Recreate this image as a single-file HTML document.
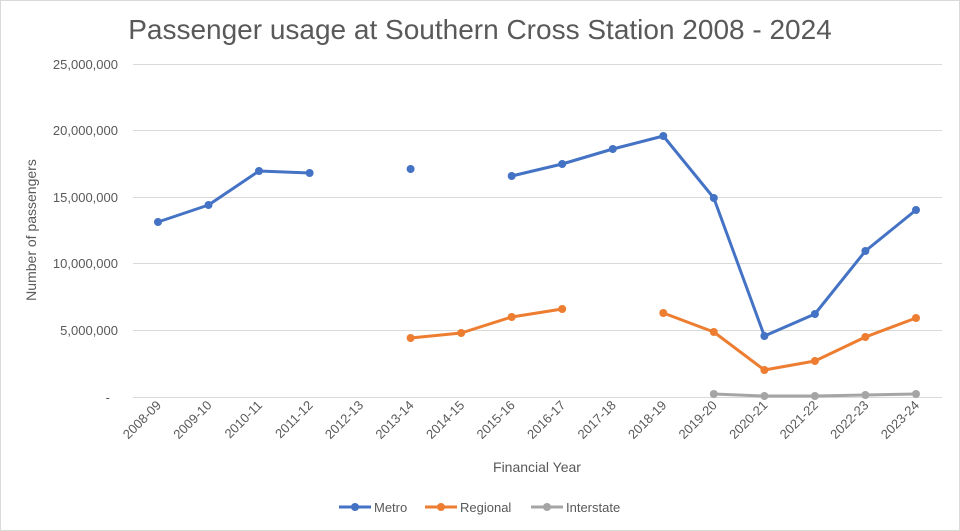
<!DOCTYPE html>
<html><head><meta charset="utf-8"><style>
html,body{margin:0;padding:0;background:#fff}
svg{display:block;font-family:"Liberation Sans",sans-serif}
</style></head><body>
<svg width="960" height="531" viewBox="0 0 960 531">
<rect x="0.5" y="0.5" width="959" height="530" fill="#fff" stroke="#d9d9d9"/>
<text x="480" y="39" text-anchor="middle" font-size="28" fill="#595959">Passenger usage at Southern Cross Station 2008 - 2024</text>
<g stroke="#d9d9d9" stroke-width="1">
<line x1="133" y1="64.5" x2="942" y2="64.5"/>
<line x1="133" y1="130.5" x2="942" y2="130.5"/>
<line x1="133" y1="197.5" x2="942" y2="197.5"/>
<line x1="133" y1="263.5" x2="942" y2="263.5"/>
<line x1="133" y1="330.5" x2="942" y2="330.5"/>
<line x1="133" y1="397.5" x2="942" y2="397.5"/>
</g>
<g font-size="13" fill="#595959" text-anchor="end">
<text x="118" y="69">25,000,000</text>
<text x="118" y="135">20,000,000</text>
<text x="118" y="202">15,000,000</text>
<text x="118" y="268">10,000,000</text>
<text x="118" y="335">5,000,000</text>
<text x="110" y="402">-</text>
</g>
<text transform="translate(36,230) rotate(-90)" text-anchor="middle" font-size="14" fill="#595959">Number of passengers</text>
<text x="537" y="472" text-anchor="middle" font-size="14" fill="#595959">Financial Year</text>
<g font-size="13" fill="#595959" text-anchor="end">
<text transform="translate(162,406) rotate(-45)">2008-09</text>
<text transform="translate(212.5,406) rotate(-45)">2009-10</text>
<text transform="translate(263,406) rotate(-45)">2010-11</text>
<text transform="translate(313.6,406) rotate(-45)">2011-12</text>
<text transform="translate(364.1,406) rotate(-45)">2012-13</text>
<text transform="translate(414.6,406) rotate(-45)">2013-14</text>
<text transform="translate(465.2,406) rotate(-45)">2014-15</text>
<text transform="translate(515.7,406) rotate(-45)">2015-16</text>
<text transform="translate(566.2,406) rotate(-45)">2016-17</text>
<text transform="translate(616.8,406) rotate(-45)">2017-18</text>
<text transform="translate(667.3,406) rotate(-45)">2018-19</text>
<text transform="translate(717.8,406) rotate(-45)">2019-20</text>
<text transform="translate(768.4,406) rotate(-45)">2020-21</text>
<text transform="translate(818.9,406) rotate(-45)">2021-22</text>
<text transform="translate(869.4,406) rotate(-45)">2022-23</text>
<text transform="translate(920,406) rotate(-45)">2023-24</text>
</g>
<g fill="none" stroke-width="3" stroke-linejoin="round">
<polyline stroke="#4472c4" points="158,222 208.5,205 259,171 309.6,173"/>
<polyline stroke="#4472c4" points="511.7,176 562.2,164 612.8,149 663.3,136 713.8,198 764.4,336 814.9,314 865.4,251 916,210"/>
<polyline stroke="#ed7d31" points="410.6,338 461.2,333 511.7,317 562.2,309"/>
<polyline stroke="#ed7d31" points="663.3,313 713.8,332 764.4,370 814.9,361 865.4,337 916,318"/>
<polyline stroke="#a5a5a5" points="713.8,394 764.4,396 814.9,396 865.4,395 916,394"/>
</g>
<g fill="#4472c4">
<circle cx="158" cy="222" r="4"/><circle cx="208.5" cy="205" r="4"/><circle cx="259" cy="171" r="4"/><circle cx="309.6" cy="173" r="4"/><circle cx="410.6" cy="169" r="4"/><circle cx="511.7" cy="176" r="4"/><circle cx="562.2" cy="164" r="4"/><circle cx="612.8" cy="149" r="4"/><circle cx="663.3" cy="136" r="4"/><circle cx="713.8" cy="198" r="4"/><circle cx="764.4" cy="336" r="4"/><circle cx="814.9" cy="314" r="4"/><circle cx="865.4" cy="251" r="4"/><circle cx="916" cy="210" r="4"/>
</g>
<g fill="#ed7d31">
<circle cx="410.6" cy="338" r="4"/><circle cx="461.2" cy="333" r="4"/><circle cx="511.7" cy="317" r="4"/><circle cx="562.2" cy="309" r="4"/><circle cx="663.3" cy="313" r="4"/><circle cx="713.8" cy="332" r="4"/><circle cx="764.4" cy="370" r="4"/><circle cx="814.9" cy="361" r="4"/><circle cx="865.4" cy="337" r="4"/><circle cx="916" cy="318" r="4"/>
</g>
<g fill="#a5a5a5">
<circle cx="713.8" cy="394" r="4"/><circle cx="764.4" cy="396" r="4"/><circle cx="814.9" cy="396" r="4"/><circle cx="865.4" cy="395" r="4"/><circle cx="916" cy="394" r="4"/>
</g>
<g font-size="13" fill="#595959">
<line x1="339" y1="507" x2="371" y2="507" stroke="#4472c4" stroke-width="3"/><circle cx="355" cy="507" r="4" fill="#4472c4"/>
<text x="374" y="512">Metro</text>
<line x1="425" y1="507" x2="457" y2="507" stroke="#ed7d31" stroke-width="3"/><circle cx="441" cy="507" r="4" fill="#ed7d31"/>
<text x="460" y="512">Regional</text>
<line x1="531" y1="507" x2="563" y2="507" stroke="#a5a5a5" stroke-width="3"/><circle cx="547" cy="507" r="4" fill="#a5a5a5"/>
<text x="566" y="512">Interstate</text>
</g>
</svg>
</body></html>
